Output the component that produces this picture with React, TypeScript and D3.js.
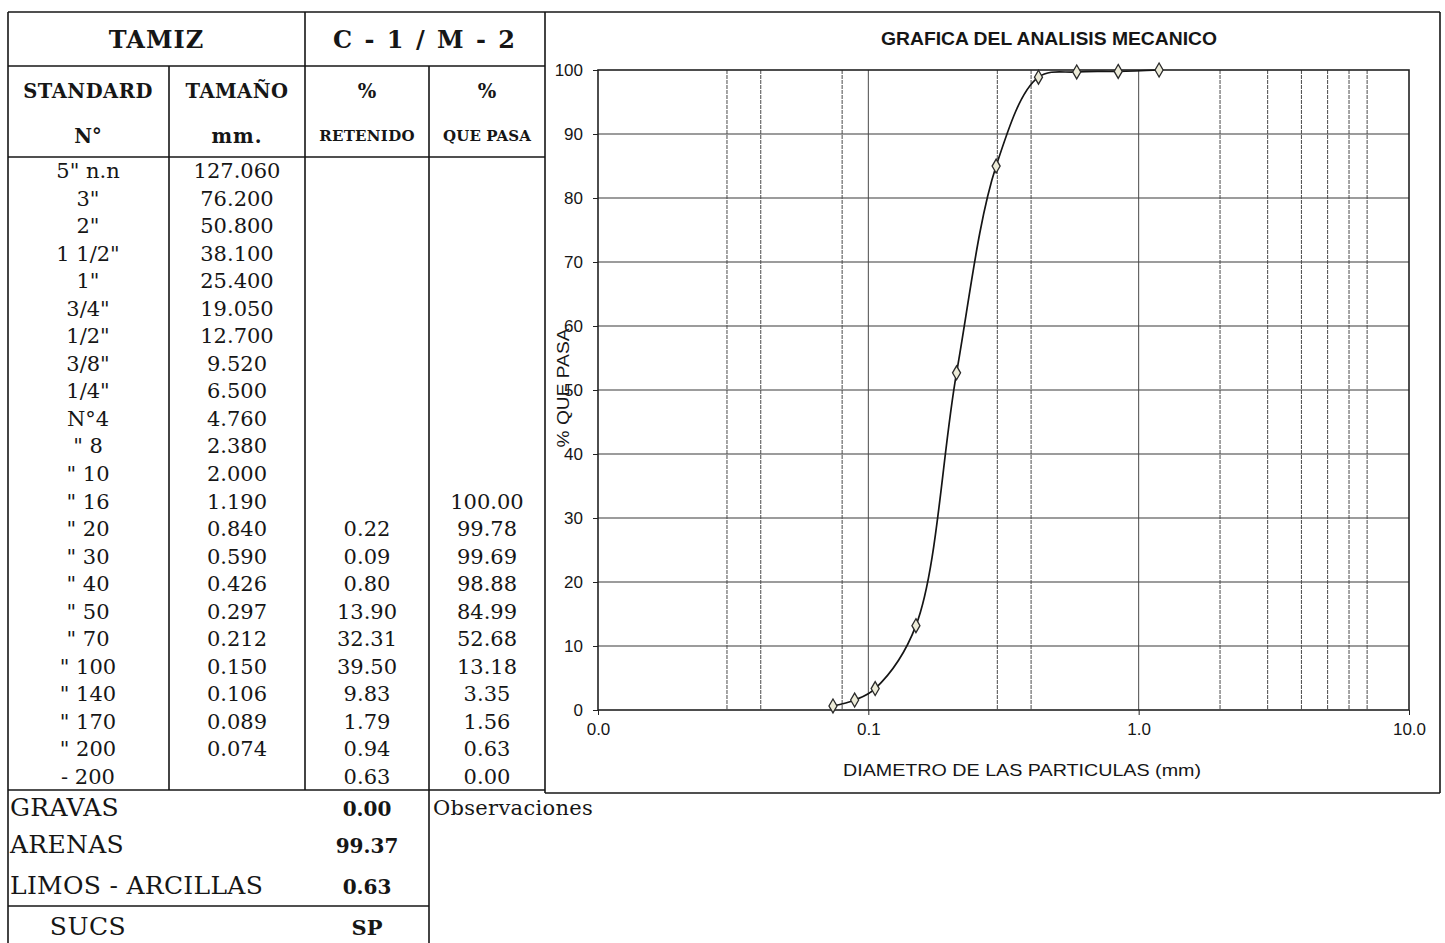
import React, { useEffect, useRef } from 'react';
import * as d3 from 'd3';

// sieve table (read from the sheet)
const sieveLabels = ['5" n.n', '3"', '2"', '1 1/2"', '1"', '3/4"', '1/2"', '3/8"', '1/4"', 'N°4',
  '" 8', '" 10', '" 16', '" 20', '" 30', '" 40', '" 50', '" 70', '" 100', '" 140', '" 170', '" 200', '- 200'];
const sieveSizes: (number | null)[] = [127.06, 76.2, 50.8, 38.1, 25.4, 19.05, 12.7, 9.52, 6.5, 4.76,
  2.38, 2.0, 1.19, 0.84, 0.59, 0.426, 0.297, 0.212, 0.15, 0.106, 0.089, 0.074, null];
const retained: (number | null)[] = [null, null, null, null, null, null, null, null, null, null,
  null, null, null, 0.22, 0.09, 0.80, 13.90, 32.31, 39.50, 9.83, 1.79, 0.94, 0.63];
const passing: (number | null)[] = [null, null, null, null, null, null, null, null, null, null,
  null, null, 100.0, 99.78, 99.69, 98.88, 84.99, 52.68, 13.18, 3.35, 1.56, 0.63, 0.0];

const summaryLabels = ['GRAVAS', 'ARENAS', 'LIMOS - ARCILLAS'];
const summaryValues = [0.0, 99.37, 0.63];
const sucs = 'SP';

// chart axes
const xMajorTicks = [0.01, 0.1, 1, 10];
const xMinorGrid = [0.03, 0.04, 0.08, 0.3, 0.4, 2, 3, 4, 5, 6, 7];
const yTicks = [0, 10, 20, 30, 40, 50, 60, 70, 80, 90, 100];

const W = 1445;
const H = 943;

const App: React.FC = () => {
  const svgRef = useRef<SVGSVGElement>(null);

  useEffect(() => {
    const svg = d3.select(svgRef.current);
    svg.selectAll('*').remove();

    const serif = '"DejaVu Serif", "Liberation Serif", serif';
    const sans = '"Liberation Sans", Arial, sans-serif';
    const ink = '#161616';

    svg.append('rect').attr('width', W).attr('height', H).attr('fill', '#fff');

    // ---------- table grid ----------
    const colX = [8, 169, 305, 429, 545];
    const yTop = 12, yHead1 = 66, yHead2 = 157, yData = 790, yLimos = 906;
    const rowH = (yData - yHead2) / sieveLabels.length;

    const lines = svg.append('g').attr('stroke', ink).attr('stroke-width', 1.6);
    const seg = (x1: number, y1: number, x2: number, y2: number) =>
      lines.append('line').attr('x1', x1).attr('y1', y1).attr('x2', x2).attr('y2', y2);

    seg(colX[0], yTop, 1440, yTop);
    seg(colX[0], yHead1, colX[4], yHead1);
    seg(colX[0], yHead2, colX[4], yHead2);
    seg(colX[0], yData, colX[4], yData);
    seg(colX[0], yLimos, colX[3], yLimos);
    seg(colX[0], yTop, colX[0], H);
    seg(colX[1], yHead1, colX[1], yData);
    seg(colX[2], yTop, colX[2], yData);
    seg(colX[3], yHead1, colX[3], H);
    seg(colX[4], yTop, colX[4], 793);
    // chart frame
    seg(colX[4], 793, 1440, 793);
    seg(1440, yTop, 1440, 793);

    const txt = (x: number, y: number, s: string, size: number, bold = false, anchor = 'middle', spacing = 0) =>
      svg.append('text')
        .attr('x', x).attr('y', y)
        .attr('text-anchor', anchor)
        .attr('font-family', serif)
        .attr('font-size', size)
        .attr('font-weight', bold ? 'bold' : 'normal')
        .attr('letter-spacing', spacing)
        .attr('fill', ink)
        .text(s);

    const cx = [88, 237, 367, 487];

    // headers
    txt((colX[0] + colX[2]) / 2, 48, 'TAMIZ', 24, true, 'middle', 1);
    txt((colX[2] + colX[4]) / 2, 48, 'C - 1 / M - 2', 24, true, 'middle', 2);
    txt(cx[0], 98, 'STANDARD', 19.5, true, 'middle', 0.5);
    txt(cx[1], 98, 'TAMAÑO', 19.5, true, 'middle', 0.5);
    txt(cx[2], 98, '%', 19.5, true);
    txt(cx[3], 98, '%', 19.5, true);
    txt(cx[0], 143, 'N°', 19.5, true);
    txt(cx[1], 143, 'mm.', 19.5, true, 'middle', 1);
    txt(cx[2], 141, 'RETENIDO', 15, true, 'middle', 0.3);
    txt(cx[3], 141, 'QUE PASA', 15, true, 'middle', 0.1);

    // data rows
    sieveLabels.forEach((lab, i) => {
      const y = yHead2 + rowH * (i + 0.5) + 7.5;
      txt(cx[0], y, lab, 21);
      const s = sieveSizes[i];
      if (s !== null) txt(cx[1], y, s.toFixed(3), 21);
      const r = retained[i];
      if (r !== null) txt(cx[2], y, r.toFixed(2), 21);
      const p = passing[i];
      if (p !== null) txt(cx[3], y, p.toFixed(2), 21);
    });

    // summary
    const sumY = [816, 853, 894];
    summaryLabels.forEach((lab, i) => {
      txt(10, sumY[i], lab, 25, false, 'start', 0.3);
      txt(cx[2], sumY[i], summaryValues[i].toFixed(2), 20, true);
    });
    txt(88, 935, 'SUCS', 25, false, 'middle', 0.5);
    txt(cx[2], 935, sucs, 21, true);
    txt(433, 815, 'Observaciones', 21, false, 'start', 0.3);

    // ---------- chart ----------
    const plot = { left: 598, right: 1409, top: 70, bottom: 710 };
    const x = d3.scaleLog().domain([0.01, 10]).range([plot.left, plot.right]);
    const y = d3.scaleLinear().domain([0, 100]).range([plot.bottom, plot.top]);

    const chart = svg.append('g');

    // horizontal grid
    chart.append('g').selectAll('line')
      .data(yTicks.filter(v => v > 0 && v < 100))
      .enter().append('line')
      .attr('x1', plot.left).attr('x2', plot.right)
      .attr('y1', d => y(d)).attr('y2', d => y(d))
      .attr('stroke', '#3a3a3a').attr('stroke-width', 1.1);

    // vertical grid
    chart.append('g').selectAll('line')
      .data([...xMinorGrid, 0.1, 1])
      .enter().append('line')
      .attr('x1', d => x(d)).attr('x2', d => x(d))
      .attr('y1', plot.top).attr('y2', plot.bottom)
      .attr('stroke', '#4a4a4a').attr('stroke-width', 1)
      .attr('stroke-dasharray', d => (xMinorGrid.includes(d) ? '4,1' : null));

    // frame
    chart.append('rect')
      .attr('x', plot.left).attr('y', plot.top)
      .attr('width', plot.right - plot.left).attr('height', plot.bottom - plot.top)
      .attr('fill', 'none').attr('stroke', '#222').attr('stroke-width', 1.6);

    // y axis
    const yAxis = chart.append('g')
      .attr('transform', `translate(${plot.left},0)`)
      .call(d3.axisLeft(y).tickValues(yTicks).tickSize(5).tickPadding(10).tickFormat(d3.format('d')));
    yAxis.select('.domain').remove();
    yAxis.selectAll('line').attr('stroke', '#222');
    yAxis.selectAll('text').attr('font-family', sans).attr('font-size', 17).attr('fill', ink);

    // x axis
    const xAxis = chart.append('g')
      .attr('transform', `translate(0,${plot.bottom})`)
      .call(d3.axisBottom(x).tickValues(xMajorTicks).tickSize(5).tickPadding(8).tickFormat(d3.format('.1f')));
    xAxis.select('.domain').remove();
    xAxis.selectAll('line').attr('stroke', '#222');
    xAxis.selectAll('text').attr('font-family', sans).attr('font-size', 17).attr('fill', ink);

    // titles
    chart.append('text')
      .attr('x', 1049).attr('y', 45)
      .attr('text-anchor', 'middle')
      .attr('font-family', sans).attr('font-weight', 'bold').attr('font-size', 18)
      .attr('textLength', 336).attr('lengthAdjust', 'spacingAndGlyphs')
      .attr('fill', ink)
      .text('GRAFICA DEL ANALISIS MECANICO');

    chart.append('text')
      .attr('x', 1022).attr('y', 776)
      .attr('text-anchor', 'middle')
      .attr('font-family', sans).attr('font-size', 17)
      .attr('textLength', 358).attr('lengthAdjust', 'spacingAndGlyphs')
      .attr('fill', ink)
      .text('DIAMETRO DE LAS PARTICULAS  (mm)');

    chart.append('text')
      .attr('transform', 'translate(569,388) rotate(-90)')
      .attr('text-anchor', 'middle')
      .attr('font-family', sans).attr('font-size', 17)
      .attr('textLength', 119).attr('lengthAdjust', 'spacingAndGlyphs')
      .attr('fill', ink)
      .text('% QUE PASA');

    // grading curve
    const pts = sieveSizes
      .map((s, i) => ({ d: s, p: passing[i] }))
      .filter(o => o.d !== null && o.p !== null) as { d: number; p: number }[];

    const line = d3.line<{ d: number; p: number }>()
      .x(o => x(o.d))
      .y(o => y(o.p))
      .curve(d3.curveCatmullRom.alpha(0.5));

    chart.append('path')
      .datum(pts)
      .attr('d', line)
      .attr('fill', 'none')
      .attr('stroke', '#151515')
      .attr('stroke-width', 1.7);

    chart.append('g').selectAll('path')
      .data(pts)
      .enter().append('path')
      .attr('transform', o => `translate(${x(o.d)},${y(o.p)})`)
      .attr('d', d3.symbol().type(d3.symbolDiamond).size(56)())
      .attr('fill', '#ecebd8')
      .attr('stroke', '#2a2a2a')
      .attr('stroke-width', 1.3);
  }, []);

  return (
    <svg
      ref={svgRef}
      width={W}
      height={H}
      style={{ position: 'absolute', left: 0, top: 0, display: 'block' }}
    />
  );
};

export default App;
